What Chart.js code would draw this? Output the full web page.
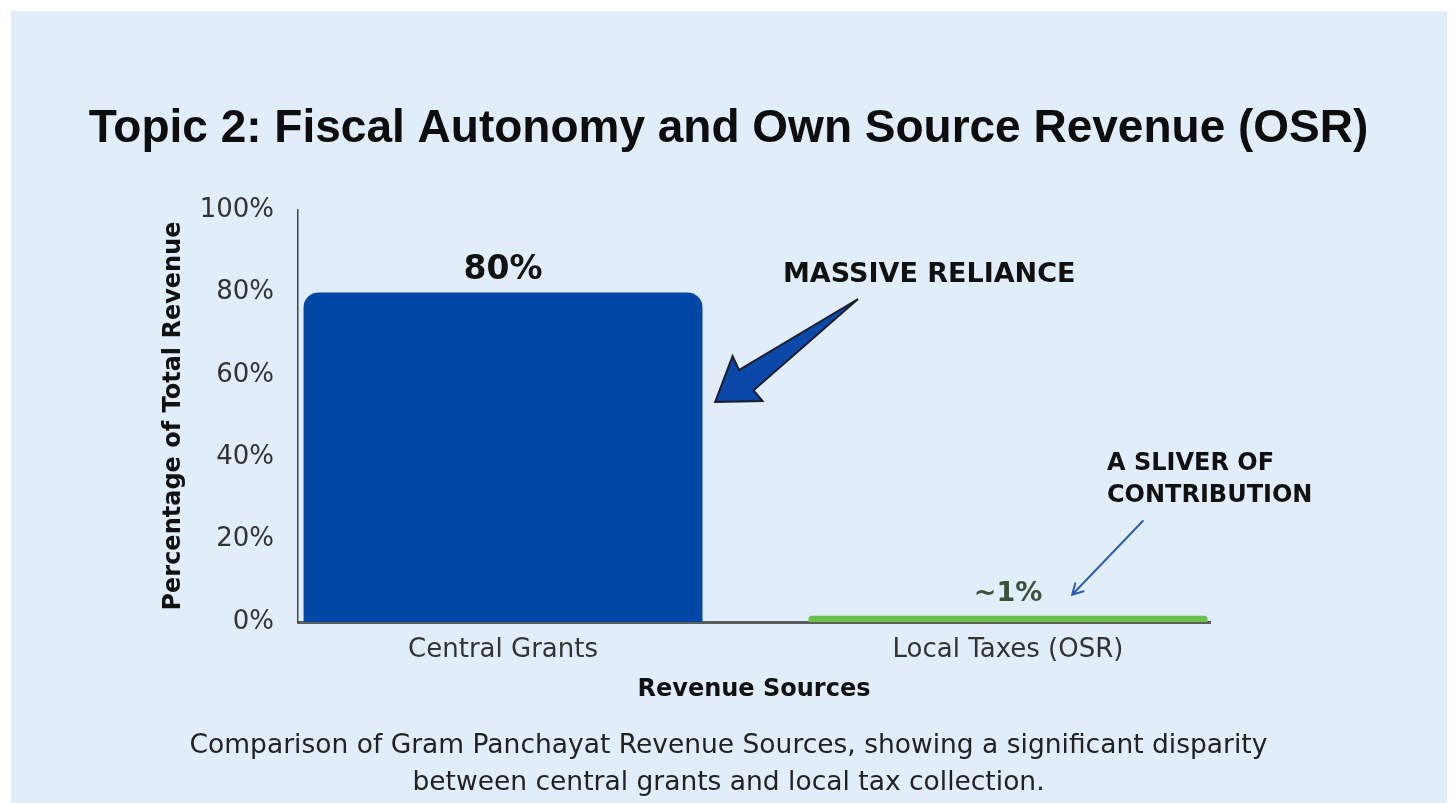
<!DOCTYPE html>
<html lang="en">
<head>
<meta charset="utf-8">
<title>Topic 2: Fiscal Autonomy and Own Source Revenue (OSR)</title>
<script src="https://cdn.jsdelivr.net/npm/chart.js@4.4.1/dist/chart.umd.min.js"></script>
<style>
    html, body { margin: 0; padding: 0; background: #ffffff; overflow: hidden; }
    #panel { position: absolute; left: 11px; top: 11px; width: 1436px; height: 792px; background: #e2edfa; }
    #osrChart { position: absolute; left: 0; top: 0; }
</style>
</head>
<body>
<div id="panel"></div>
<canvas id="osrChart" width="1453" height="803"></canvas>
<script>
// Data
const chartTitle = 'Topic 2: Fiscal Autonomy and Own Source Revenue (OSR)';
const captionLines = [
    'Comparison of Gram Panchayat Revenue Sources, showing a significant disparity',
    'between central grants and local tax collection.'
];
const categories = ['Central Grants', 'Local Taxes (OSR)'];
const revenueShare = [80, 1.5];
const valueLabels = ['80%', '~1%'];
const yTickStep = 20;
const yMax = 100;

// Callouts, placed in data units (x = category index, y = percent)
const relianceNote = { text: 'MASSIVE RELIANCE', x: 0.844, y: 84.2 };
const relianceArrow = { fromX: 0.703, fromY: 78.4, toX: 0.42, toY: 53.4 };
const sliverNote = { lines: ['A SLIVER OF', 'CONTRIBUTION'], x: 1.196, y: [38.3, 30.6] };
const sliverArrow = { fromX: 1.267, fromY: 24.5, toX: 1.127, toY: 6.6 };

// Styles
const BLUE = '#0047a6';
const GREEN = '#6cc04a';
const TEXT = '#111111';
const TICK_TEXT = '#333333';
const barColors = [BLUE, GREEN];
const labelStyles = [
    { font: 'bold 33px "DejaVu Sans"', color: '#111111' },
    { font: 'bold 27px "DejaVu Sans"', color: '#3b523b' }
];

function drawBlockArrow(ctx, tail, tip) {
    const dx = tail.x - tip.x;
    const dy = tail.y - tip.y;
    const len = Math.hypot(dx, dy);
    const ux = dx / len, uy = dy / len;
    const nx = -uy, ny = ux;
    const at = (a, p) => [tip.x + ux * a + nx * p, tip.y + uy * a + ny * p];

    const pts = [
        at(0, 0),
        at(41, -27),
        at(38, -12),
        [tail.x, tail.y],
        at(38, 13),
        at(39, 27)
    ];

    ctx.beginPath();
    ctx.moveTo(pts[0][0], pts[0][1]);
    for (let i = 1; i < pts.length; i++) {
        ctx.lineTo(pts[i][0], pts[i][1]);
    }
    ctx.closePath();
    ctx.fillStyle = '#0a49a9';
    ctx.fill();
    ctx.lineJoin = 'miter';
    ctx.lineWidth = 2;
    ctx.strokeStyle = '#1a1d2b';
    ctx.stroke();
}

function drawThinArrow(ctx, from, to) {
    const angle = Math.atan2(to.y - from.y, to.x - from.x);
    const head = 12;
    ctx.beginPath();
    ctx.moveTo(from.x, from.y);
    ctx.lineTo(to.x, to.y);
    ctx.moveTo(to.x - head * Math.cos(angle - 0.5), to.y - head * Math.sin(angle - 0.5));
    ctx.lineTo(to.x, to.y);
    ctx.lineTo(to.x - head * Math.cos(angle + 0.5), to.y - head * Math.sin(angle + 0.5));
    ctx.strokeStyle = '#2a5fab';
    ctx.lineWidth = 2;
    ctx.lineCap = 'round';
    ctx.stroke();
}

const calloutPlugin = {
    id: 'osrCallouts',
    afterDatasetsDraw(chart) {
        const { ctx } = chart;
        const xs = chart.scales.x;
        const ys = chart.scales.y;
        const px = (v) => xs.getPixelForValue(v);
        const py = (v) => ys.getPixelForValue(v);

        ctx.save();
        ctx.textAlign = 'center';
        ctx.textBaseline = 'middle';

        // Value labels above each bar
        chart.getDatasetMeta(0).data.forEach((bar, i) => {
            ctx.font = labelStyles[i].font;
            ctx.fillStyle = labelStyles[i].color;
            ctx.fillText(valueLabels[i], bar.x, bar.y - 22);
        });

        // Big callout
        ctx.font = 'bold 27px "DejaVu Sans"';
        ctx.fillStyle = TEXT;
        ctx.fillText(relianceNote.text, px(relianceNote.x), py(relianceNote.y));
        drawBlockArrow(ctx,
            { x: px(relianceArrow.fromX), y: py(relianceArrow.fromY) },
            { x: px(relianceArrow.toX), y: py(relianceArrow.toY) });

        // Small callout
        ctx.textAlign = 'left';
        ctx.font = 'bold 24px "DejaVu Sans"';
        ctx.fillStyle = TEXT;
        sliverNote.lines.forEach((line, i) => {
            ctx.fillText(line, px(sliverNote.x), py(sliverNote.y[i]));
        });
        drawThinArrow(ctx,
            { x: px(sliverArrow.fromX), y: py(sliverArrow.fromY) },
            { x: px(sliverArrow.toX), y: py(sliverArrow.toY) });

        ctx.restore();
    },
    afterDraw(chart) {
        const { ctx, width, height } = chart;
        ctx.save();
        ctx.textAlign = 'center';

        ctx.font = 'bold 46px "Liberation Sans"';
        ctx.fillStyle = '#0d0d0d';
        ctx.textBaseline = 'alphabetic';
        ctx.fillText(chartTitle, width / 2 + 2, 142);

        ctx.font = '26.5px "DejaVu Sans"';
        ctx.fillStyle = '#222222';
        ctx.textBaseline = 'middle';
        captionLines.forEach((line, i) => {
            ctx.fillText(line, width / 2 + 2, height - 57 + i * 37);
        });
        ctx.restore();
    }
};

const ctx = document.getElementById('osrChart').getContext('2d');

new Chart(ctx, {
    type: 'bar',
    data: {
        datasets: [{
            label: 'Share of total revenue',
            data: categories.map((c, i) => ({ x: i, y: revenueShare[i] })),
            backgroundColor: barColors,
            borderWidth: 0,
            borderRadius: 15,
            borderSkipped: 'start',
            barPercentage: 0.79,
            categoryPercentage: 1.0
        }]
    },
    options: {
        responsive: false,
        animation: false,
        layout: {
            padding: { top: 210, right: 243, bottom: 91, left: 0 }
        },
        plugins: {
            legend: { display: false },
            tooltip: { enabled: false },
            title: { display: false }
        },
        scales: {
            x: {
                type: 'linear',
                offset: false,
                min: -0.406,
                max: 1.4,
                grid: { display: false, drawTicks: false, offset: false },
                border: { display: true, color: '#5c5c5c', width: 3 },
                afterBuildTicks: (scale) => {
                    scale.ticks = categories.map((c, i) => ({ value: i }));
                },
                ticks: {
                    autoSkip: false,
                    maxRotation: 0,
                    padding: 13,
                    color: TICK_TEXT,
                    font: { family: 'DejaVu Sans', size: 26 },
                    callback: (value) => categories[value] ?? ''
                },
                title: {
                    display: true,
                    text: 'Revenue Sources',
                    color: TEXT,
                    font: { family: 'DejaVu Sans', size: 24, weight: 'bold' },
                    padding: { top: 0, bottom: 8 }
                },
                afterFit: (scale) => { scale.height = 90; }
            },
            y: {
                min: 0,
                max: yMax,
                grid: { display: false, drawTicks: false },
                border: { display: true, color: '#444444', width: 1.5 },
                ticks: {
                    stepSize: yTickStep,
                    padding: 24,
                    color: TICK_TEXT,
                    font: { family: 'DejaVu Sans', size: 26 },
                    callback: (value) => value + '%'
                },
                title: {
                    display: true,
                    text: 'Percentage of Total Revenue',
                    color: TEXT,
                    font: { family: 'DejaVu Sans', size: 24, weight: 'bold' },
                    padding: { top: 159, bottom: 0 }
                },
                afterFit: (scale) => { scale.width = 298; }
            }
        }
    },
    plugins: [calloutPlugin]
});
</script>
</body>
</html>
